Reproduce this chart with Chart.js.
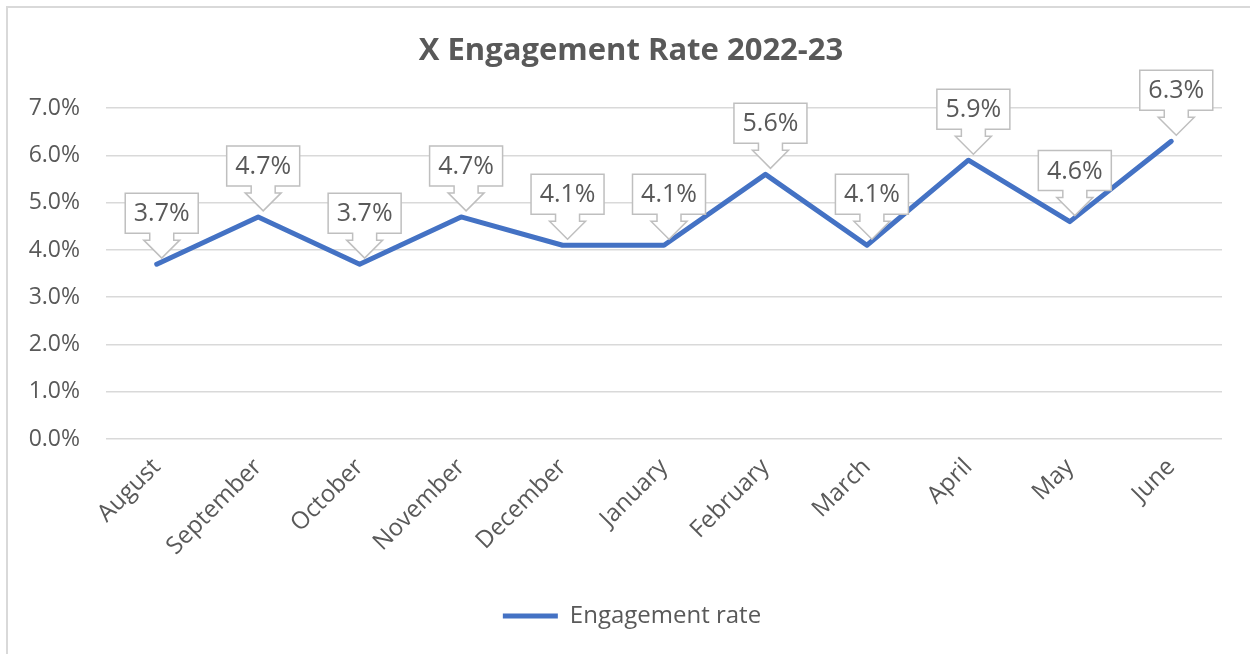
<!DOCTYPE html>
<html>
<head>
<meta charset="utf-8">
<script src="https://cdn.jsdelivr.net/npm/chart.js@4.4.1/dist/chart.umd.min.js"></script>
<style>
    body { margin: 0; background: #ffffff; }
    #wrap { position: relative; width: 1250px; height: 654px; overflow: hidden; }
    #frame { position: absolute; left: 6px; top: 6px; width: 1400px; height: 800px;
             border-left: 2px solid #d9d9d9; border-top: 2px solid #d9d9d9; }
    #rate-chart { position: absolute; left: 0; top: 0; }
</style>
</head>
<body>
<div id="wrap">
    <div id="frame"></div>
    <canvas id="rate-chart" width="1250" height="654"></canvas>
</div>
<script>
// chart data
const months = ['August', 'September', 'October', 'November', 'December', 'January',
                'February', 'March', 'April', 'May', 'June'];
const engagementRate = [3.7, 4.7, 3.7, 4.7, 4.1, 4.1, 5.6, 4.1, 5.9, 4.6, 6.3];
const yTicks = [0, 1, 2, 3, 4, 5, 6, 7];

const textGray = '#595959';
const fontName = "'Open Sans', sans-serif";

// callout boxes with a down arrow, like the excel data labels
const calloutPlugin = {
    id: 'callouts',
    afterLayout(chart) {
        // excel centres title and legend on the whole chart, a bit right of the plot
        chart.titleBlock.left += 20;
        chart.titleBlock.right += 20;
        chart.legend.left += 21;
        chart.legend.right += 21;
    },
    afterDatasetsDraw(chart) {
        const ctx = chart.ctx;
        const meta = chart.getDatasetMeta(0);
        ctx.save();
        ctx.font = '25px ' + fontName;
        ctx.textAlign = 'center';
        ctx.textBaseline = 'middle';
        for (let i = 0; i < meta.data.length; i++) {
            let pt = meta.data[i];
            let cx = pt.x + 5;
            let tipY = pt.y - 6;
            let boxBottom = tipY - 25;
            let boxTop = boxBottom - 40;
            let halfW = 36.5;
            let stemW = 12;
            let headW = 18;
            let stemBottom = boxBottom + 7;

            ctx.beginPath();
            ctx.moveTo(cx - halfW, boxTop);
            ctx.lineTo(cx + halfW, boxTop);
            ctx.lineTo(cx + halfW, boxBottom);
            ctx.lineTo(cx + stemW, boxBottom);
            ctx.lineTo(cx + stemW, stemBottom);
            ctx.lineTo(cx + headW, stemBottom);
            ctx.lineTo(cx, tipY);
            ctx.lineTo(cx - headW, stemBottom);
            ctx.lineTo(cx - stemW, stemBottom);
            ctx.lineTo(cx - stemW, boxBottom);
            ctx.lineTo(cx - halfW, boxBottom);
            ctx.closePath();
            ctx.fillStyle = '#ffffff';
            ctx.fill();
            ctx.lineWidth = 1.5;
            ctx.strokeStyle = '#bfbfbf';
            ctx.stroke();

            ctx.fillStyle = textGray;
            ctx.fillText(engagementRate[i].toFixed(1) + '%', cx, (boxTop + boxBottom) / 2 + 1);
        }
        ctx.restore();
    }
};

const rateChart = new Chart(document.getElementById('rate-chart'), {
    type: 'line',
    data: {
        labels: months,
        datasets: [{
            label: 'Engagement rate',
            data: engagementRate,
            borderColor: '#4472c4',
            backgroundColor: '#4472c4',
            borderWidth: 5,
            borderCapStyle: 'round',
            borderJoinStyle: 'round',
            pointRadius: 0,
            tension: 0
        }]
    },
    options: {
        responsive: false,
        animation: false,
        layout: { padding: { left: 0, right: 28, top: 0, bottom: 16 } },
        plugins: {
            title: {
                display: true,
                text: 'X Engagement Rate 2022-23',
                color: textGray,
                font: { family: fontName, size: 31, weight: 'bold' },
                padding: { top: 33, bottom: 38 }
            },
            legend: {
                position: 'bottom',
                labels: {
                    usePointStyle: true,
                    pointStyle: 'line',
                    pointStyleWidth: 55,
                    padding: 10,
                    color: textGray,
                    font: { family: fontName, size: 24 }
                }
            },
            tooltip: { enabled: false }
        },
        scales: {
            x: {
                offset: true,
                grid: { display: false },
                border: { display: false },
                ticks: {
                    color: textGray,
                    font: { family: fontName, size: 24 },
                    minRotation: 45,
                    maxRotation: 45,
                    padding: 6
                },
                afterFit(scale) { scale.height = 155; }
            },
            y: {
                min: 0,
                max: 7,
                afterBuildTicks(scale) { scale.ticks = yTicks.map(v => ({ value: v })); },
                grid: { color: '#d9d9d9', lineWidth: 1.5, drawTicks: false },
                border: { display: false },
                ticks: {
                    color: textGray,
                    font: { family: fontName, size: 23 },
                    padding: 26,
                    callback: v => v.toFixed(1) + '%'
                },
                afterFit(scale) { scale.width = 106; }
            }
        }
    },
    plugins: [calloutPlugin]
});
</script>
</body>
</html>
